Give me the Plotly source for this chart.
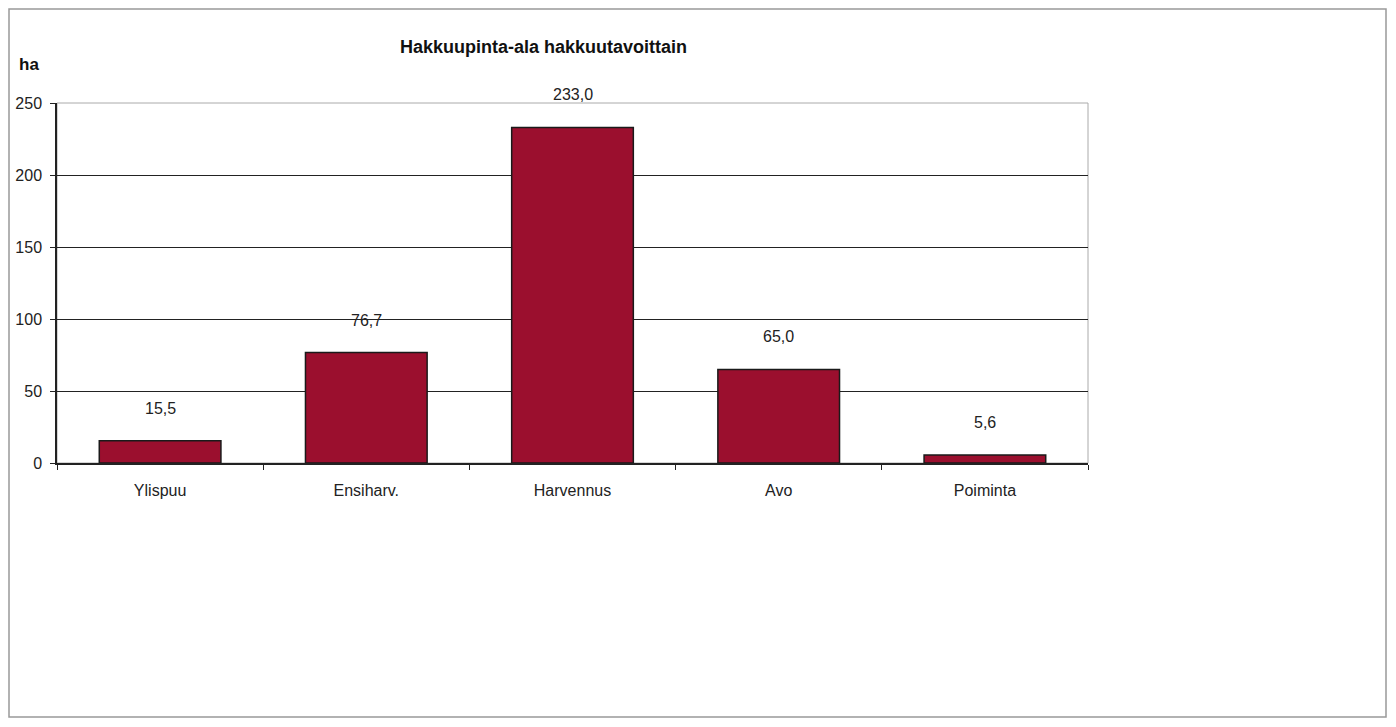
import plotly.graph_objects as go

# Hakkuupinta-ala hakkuutavoittain (ha)
categories = ["Ylispuu", "Ensiharv.", "Harvennus", "Avo", "Poiminta"]
area_ha = [15.5, 76.7, 233.0, 65.0, 5.6]
labels = [f"{v:.1f}".replace(".", ",") for v in area_ha]
y_ticks = [0, 50, 100, 150, 200, 250]

OFF = 8  # default body margin of the html page
W, H = 1396 - 2 * OFF, 727 - 2 * OFF
L, T = 57 - OFF, 103 - OFF
R = W - (1088 - OFF)
B = H - (463 - OFF)
pw, ph = W - L - R, H - T - B

def px_x(x):
    return (x - OFF - L) / pw

def px_y(y):
    return 1 - (y - OFF - T) / ph

fam = "Liberation Sans, Arial, sans-serif"
font = dict(family=fam, size=16, color="#222")

fig = go.Figure()
fig.add_trace(go.Bar(
    x=categories, y=area_ha,
    marker=dict(color="#9b0f2e", line=dict(color="#1a1a1a", width=1.5)),
    hoverinfo="x+y",
))

# value labels, floated above each bar
for c, v, t in zip(categories, area_ha, labels):
    fig.add_annotation(x=c, y=v, text=t, showarrow=False, yanchor="bottom",
                       yshift=22, font=font)

fig.add_annotation(x=px_x(543), y=px_y(47), xref="paper", yref="paper",
                   xanchor="center", yanchor="middle",
                   text="<b>Hakkuupinta-ala hakkuutavoittain</b>", showarrow=False,
                   font=dict(family=fam, size=18, color="#111"))
fig.add_annotation(x=px_x(17), y=px_y(65), xref="paper", yref="paper",
                   xanchor="left", yanchor="middle",
                   text="<b>ha</b>", showarrow=False,
                   font=dict(family=fam, size=17, color="#111"))

# outer frame (kept just inside the figure) and plot frame
fig.add_shape(type="rect", xref="paper", yref="paper",
              x0=(1 - L) / pw, x1=(W - 2 - L) / pw,
              y0=1 - (H - 2 - T) / ph, y1=1 - (1 - T) / ph,
              line=dict(color="#999", width=1.5), layer="below")
fig.add_shape(type="rect", xref="paper", yref="paper", x0=0, x1=1, y0=0, y1=1,
              line=dict(color="#aaa", width=1), layer="below")

fig.update_layout(
    width=W, height=H,
    margin=dict(l=L, r=R, t=T, b=B),
    paper_bgcolor="white", plot_bgcolor="white",
    font=font, showlegend=False, bargap=0.41,
)
fig.update_xaxes(showline=True, linecolor="#222", linewidth=1.5,
                 ticks="outside", tickson="boundaries", ticklen=5,
                 tickcolor="#222", showgrid=False, tickfont=font,
                 ticklabelstandoff=12, automargin=False)
fig.update_yaxes(range=[0, 250], tickvals=y_ticks, showline=True,
                 linecolor="#222", linewidth=1.5, ticks="outside", ticklen=5,
                 tickcolor="#222", gridcolor="#222", gridwidth=1.2,
                 zeroline=False, tickfont=font, ticklabelstandoff=5,
                 automargin=False)

fig.write_html("out.html")
